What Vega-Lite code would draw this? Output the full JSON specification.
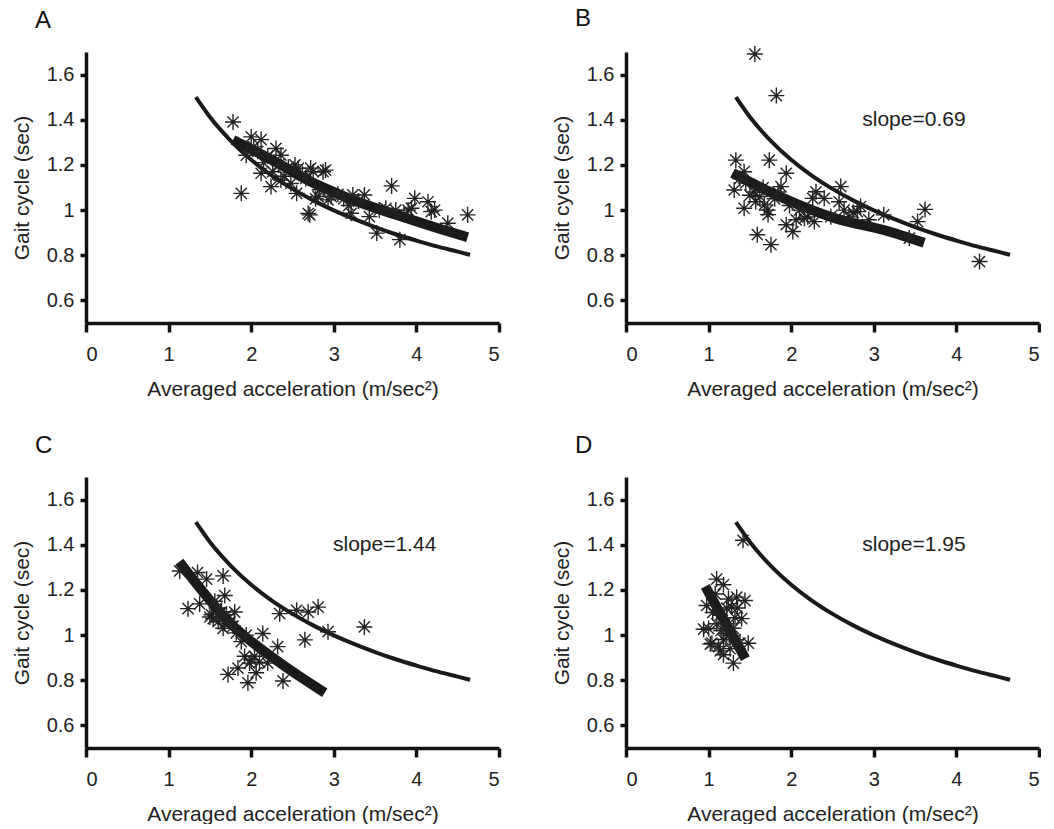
{
  "$schema": "https://vega.github.io/schema/vega-lite/v6.json",
  "padding": {"left": 11, "top": 7, "right": 0, "bottom": 0},
  "background": "white",
  "datasets": {
    "ref": [
      {"acc": 1.33, "gait": 1.5}, {"acc": 1.5, "gait": 1.412}, {"acc": 1.75, "gait": 1.308}, {"acc": 2.0, "gait": 1.223},
      {"acc": 2.25, "gait": 1.153}, {"acc": 2.5, "gait": 1.094}, {"acc": 2.75, "gait": 1.043}, {"acc": 3.0, "gait": 0.999},
      {"acc": 3.25, "gait": 0.96}, {"acc": 3.5, "gait": 0.925}, {"acc": 3.75, "gait": 0.893}, {"acc": 4.0, "gait": 0.865},
      {"acc": 4.25, "gait": 0.839}, {"acc": 4.5, "gait": 0.816}, {"acc": 4.65, "gait": 0.802}
    ],
    "fit": [
      {"panel": "A", "acc": 1.78, "gait": 1.31}, {"panel": "A", "acc": 2.32, "gait": 1.208}, {"panel": "A", "acc": 2.7, "gait": 1.13},
      {"panel": "A", "acc": 3.13, "gait": 1.06}, {"panel": "A", "acc": 3.94, "gait": 0.957}, {"panel": "A", "acc": 4.3, "gait": 0.915}, {"panel": "A", "acc": 4.62, "gait": 0.88},
      {"panel": "B", "acc": 1.29, "gait": 1.164}, {"panel": "B", "acc": 1.86, "gait": 1.06}, {"panel": "B", "acc": 2.54, "gait": 0.963},
      {"panel": "B", "acc": 3.12, "gait": 0.912}, {"panel": "B", "acc": 3.61, "gait": 0.855},
      {"panel": "C", "acc": 1.13, "gait": 1.325}, {"panel": "C", "acc": 1.76, "gait": 1.048}, {"panel": "C", "acc": 2.36, "gait": 0.874}, {"panel": "C", "acc": 2.89, "gait": 0.745},
      {"panel": "D", "acc": 0.96, "gait": 1.216}, {"panel": "D", "acc": 1.445, "gait": 0.896}
    ],
    "ann": [
      {"panel": "B", "acc": 2.86, "gait": 1.4, "label": "slope=0.69"},
      {"panel": "C", "acc": 2.99, "gait": 1.4, "label": "slope=1.44"},
      {"panel": "D", "acc": 2.86, "gait": 1.4, "label": "slope=1.95"}
    ],
    "pts": [
      {"panel": "A", "acc": 1.78, "gait": 1.39}, {"panel": "A", "acc": 1.88, "gait": 1.074}, {"panel": "A", "acc": 2.0, "gait": 1.324},
      {"panel": "A", "acc": 2.12, "gait": 1.312}, {"panel": "A", "acc": 1.94, "gait": 1.243}, {"panel": "A", "acc": 2.03, "gait": 1.28},
      {"panel": "A", "acc": 2.08, "gait": 1.26}, {"panel": "A", "acc": 2.12, "gait": 1.163}, {"panel": "A", "acc": 2.15, "gait": 1.21},
      {"panel": "A", "acc": 2.2, "gait": 1.24}, {"panel": "A", "acc": 2.24, "gait": 1.104}, {"panel": "A", "acc": 2.26, "gait": 1.17},
      {"panel": "A", "acc": 2.3, "gait": 1.273}, {"panel": "A", "acc": 2.36, "gait": 1.243}, {"panel": "A", "acc": 2.33, "gait": 1.2},
      {"panel": "A", "acc": 2.36, "gait": 1.133}, {"panel": "A", "acc": 2.4, "gait": 1.15}, {"panel": "A", "acc": 2.45, "gait": 1.19},
      {"panel": "A", "acc": 2.48, "gait": 1.118}, {"panel": "A", "acc": 2.55, "gait": 1.074}, {"panel": "A", "acc": 2.57, "gait": 1.185},
      {"panel": "A", "acc": 2.53, "gait": 1.2}, {"panel": "A", "acc": 2.62, "gait": 1.16}, {"panel": "A", "acc": 2.66, "gait": 1.14},
      {"panel": "A", "acc": 2.71, "gait": 0.979}, {"panel": "A", "acc": 2.69, "gait": 0.985}, {"panel": "A", "acc": 2.75, "gait": 1.17},
      {"panel": "A", "acc": 2.72, "gait": 1.186}, {"panel": "A", "acc": 2.87, "gait": 1.17}, {"panel": "A", "acc": 2.9, "gait": 1.177},
      {"panel": "A", "acc": 2.81, "gait": 1.06}, {"panel": "A", "acc": 2.78, "gait": 1.05}, {"panel": "A", "acc": 2.83, "gait": 1.09},
      {"panel": "A", "acc": 2.93, "gait": 1.045}, {"panel": "A", "acc": 2.97, "gait": 1.06}, {"panel": "A", "acc": 3.05, "gait": 1.07},
      {"panel": "A", "acc": 3.12, "gait": 1.05}, {"panel": "A", "acc": 3.21, "gait": 0.986}, {"panel": "A", "acc": 3.23, "gait": 1.067},
      {"panel": "A", "acc": 3.18, "gait": 1.02}, {"panel": "A", "acc": 3.3, "gait": 1.04}, {"panel": "A", "acc": 3.37, "gait": 1.067},
      {"panel": "A", "acc": 3.43, "gait": 0.971}, {"panel": "A", "acc": 3.52, "gait": 0.898}, {"panel": "A", "acc": 3.55, "gait": 1.0},
      {"panel": "A", "acc": 3.63, "gait": 1.008}, {"panel": "A", "acc": 3.7, "gait": 1.107}, {"panel": "A", "acc": 3.75, "gait": 1.0},
      {"panel": "A", "acc": 3.8, "gait": 0.869}, {"panel": "A", "acc": 3.85, "gait": 0.98}, {"panel": "A", "acc": 3.9, "gait": 1.0},
      {"panel": "A", "acc": 3.94, "gait": 1.008}, {"panel": "A", "acc": 3.98, "gait": 1.052}, {"panel": "A", "acc": 4.14, "gait": 1.037},
      {"panel": "A", "acc": 4.18, "gait": 0.993}, {"panel": "A", "acc": 4.22, "gait": 1.0}, {"panel": "A", "acc": 4.38, "gait": 0.942},
      {"panel": "A", "acc": 4.62, "gait": 0.979},
      {"panel": "B", "acc": 1.56, "gait": 1.691}, {"panel": "B", "acc": 1.82, "gait": 1.507}, {"panel": "B", "acc": 1.33, "gait": 1.221},
      {"panel": "B", "acc": 1.735, "gait": 1.221}, {"panel": "B", "acc": 1.43, "gait": 1.17}, {"panel": "B", "acc": 1.94, "gait": 1.163},
      {"panel": "B", "acc": 1.31, "gait": 1.089}, {"panel": "B", "acc": 1.43, "gait": 1.008}, {"panel": "B", "acc": 1.59, "gait": 0.891},
      {"panel": "B", "acc": 1.755, "gait": 0.847}, {"panel": "B", "acc": 1.57, "gait": 1.037}, {"panel": "B", "acc": 1.715, "gait": 1.0},
      {"panel": "B", "acc": 1.675, "gait": 1.023}, {"panel": "B", "acc": 1.876, "gait": 1.104}, {"panel": "B", "acc": 1.84, "gait": 1.08},
      {"panel": "B", "acc": 1.94, "gait": 0.935}, {"panel": "B", "acc": 2.02, "gait": 0.905}, {"panel": "B", "acc": 2.06, "gait": 0.957},
      {"panel": "B", "acc": 2.16, "gait": 0.964}, {"panel": "B", "acc": 2.28, "gait": 0.949}, {"panel": "B", "acc": 2.3, "gait": 1.081},
      {"panel": "B", "acc": 2.4, "gait": 1.052}, {"panel": "B", "acc": 2.26, "gait": 1.052}, {"panel": "B", "acc": 2.48, "gait": 0.971},
      {"panel": "B", "acc": 2.6, "gait": 1.104}, {"panel": "B", "acc": 2.58, "gait": 1.037}, {"panel": "B", "acc": 2.64, "gait": 1.0},
      {"panel": "B", "acc": 2.84, "gait": 1.016}, {"panel": "B", "acc": 2.8, "gait": 0.993}, {"panel": "B", "acc": 2.94, "gait": 0.957},
      {"panel": "B", "acc": 3.12, "gait": 0.979}, {"panel": "B", "acc": 3.43, "gait": 0.876}, {"panel": "B", "acc": 3.53, "gait": 0.949},
      {"panel": "B", "acc": 3.62, "gait": 1.003}, {"panel": "B", "acc": 4.28, "gait": 0.772}, {"panel": "B", "acc": 1.45, "gait": 1.12},
      {"panel": "B", "acc": 1.5, "gait": 1.066}, {"panel": "B", "acc": 1.55, "gait": 1.08}, {"panel": "B", "acc": 1.62, "gait": 1.06},
      {"panel": "B", "acc": 1.66, "gait": 1.1}, {"panel": "B", "acc": 1.8, "gait": 1.05}, {"panel": "B", "acc": 1.72, "gait": 0.98},
      {"panel": "B", "acc": 1.98, "gait": 1.02}, {"panel": "B", "acc": 2.1, "gait": 1.0}, {"panel": "B", "acc": 2.2, "gait": 0.97},
      {"panel": "B", "acc": 2.7, "gait": 0.97}, {"panel": "B", "acc": 2.75, "gait": 0.99}, {"panel": "B", "acc": 1.38, "gait": 1.14},
      {"panel": "C", "acc": 1.134, "gait": 1.284}, {"panel": "C", "acc": 1.35, "gait": 1.277}, {"panel": "C", "acc": 1.46, "gait": 1.248},
      {"panel": "C", "acc": 1.66, "gait": 1.262}, {"panel": "C", "acc": 1.235, "gait": 1.117}, {"panel": "C", "acc": 1.376, "gait": 1.138},
      {"panel": "C", "acc": 1.68, "gait": 1.175}, {"panel": "C", "acc": 1.54, "gait": 1.073}, {"panel": "C", "acc": 1.68, "gait": 1.051},
      {"panel": "C", "acc": 1.8, "gait": 1.102}, {"panel": "C", "acc": 1.64, "gait": 1.102}, {"panel": "C", "acc": 1.88, "gait": 0.971},
      {"panel": "C", "acc": 2.14, "gait": 1.007}, {"panel": "C", "acc": 2.345, "gait": 1.095}, {"panel": "C", "acc": 2.55, "gait": 1.11},
      {"panel": "C", "acc": 2.69, "gait": 1.102}, {"panel": "C", "acc": 2.81, "gait": 1.124}, {"panel": "C", "acc": 2.65, "gait": 0.979},
      {"panel": "C", "acc": 2.93, "gait": 1.015}, {"panel": "C", "acc": 3.37, "gait": 1.036}, {"panel": "C", "acc": 2.32, "gait": 0.949},
      {"panel": "C", "acc": 1.92, "gait": 0.906}, {"panel": "C", "acc": 2.04, "gait": 0.906}, {"panel": "C", "acc": 1.98, "gait": 0.876},
      {"panel": "C", "acc": 1.84, "gait": 0.854}, {"panel": "C", "acc": 1.72, "gait": 0.826}, {"panel": "C", "acc": 1.96, "gait": 0.789},
      {"panel": "C", "acc": 2.06, "gait": 0.833}, {"panel": "C", "acc": 2.2, "gait": 0.876}, {"panel": "C", "acc": 2.385, "gait": 0.797},
      {"panel": "C", "acc": 1.5, "gait": 1.08}, {"panel": "C", "acc": 1.58, "gait": 1.12}, {"panel": "C", "acc": 1.62, "gait": 1.1},
      {"panel": "C", "acc": 1.7, "gait": 1.09}, {"panel": "C", "acc": 1.74, "gait": 1.06}, {"panel": "C", "acc": 1.66, "gait": 1.03},
      {"panel": "C", "acc": 1.6, "gait": 1.06}, {"panel": "C", "acc": 1.78, "gait": 1.04}, {"panel": "C", "acc": 1.56, "gait": 1.15},
      {"panel": "C", "acc": 1.52, "gait": 1.09}, {"panel": "C", "acc": 1.82, "gait": 1.01}, {"panel": "C", "acc": 1.94, "gait": 1.0},
      {"panel": "C", "acc": 2.0, "gait": 0.89}, {"panel": "C", "acc": 2.1, "gait": 0.88},
      {"panel": "D", "acc": 1.417, "gait": 1.42}, {"panel": "D", "acc": 1.097, "gait": 1.248}, {"panel": "D", "acc": 1.18, "gait": 1.223},
      {"panel": "D", "acc": 0.976, "gait": 1.131}, {"panel": "D", "acc": 0.94, "gait": 1.026}, {"panel": "D", "acc": 1.0, "gait": 1.029},
      {"panel": "D", "acc": 1.04, "gait": 0.964}, {"panel": "D", "acc": 1.3, "gait": 0.876}, {"panel": "D", "acc": 1.48, "gait": 0.964},
      {"panel": "D", "acc": 1.44, "gait": 1.153}, {"panel": "D", "acc": 1.34, "gait": 1.168}, {"panel": "D", "acc": 1.4, "gait": 1.073},
      {"panel": "D", "acc": 1.14, "gait": 1.088}, {"panel": "D", "acc": 1.22, "gait": 1.007}, {"panel": "D", "acc": 1.12, "gait": 0.949},
      {"panel": "D", "acc": 1.18, "gait": 0.913}, {"panel": "D", "acc": 1.28, "gait": 1.124}, {"panel": "D", "acc": 1.08, "gait": 1.182},
      {"panel": "D", "acc": 1.38, "gait": 0.964}, {"panel": "D", "acc": 1.05, "gait": 1.1}, {"panel": "D", "acc": 1.2, "gait": 1.05},
      {"panel": "D", "acc": 1.25, "gait": 1.0}, {"panel": "D", "acc": 1.15, "gait": 1.02}, {"panel": "D", "acc": 1.1, "gait": 1.05},
      {"panel": "D", "acc": 1.3, "gait": 1.03}, {"panel": "D", "acc": 1.22, "gait": 1.12}, {"panel": "D", "acc": 1.32, "gait": 0.98},
      {"panel": "D", "acc": 1.18, "gait": 0.98}, {"panel": "D", "acc": 1.26, "gait": 0.94}, {"panel": "D", "acc": 1.02, "gait": 0.96},
      {"panel": "D", "acc": 1.14, "gait": 0.93}, {"panel": "D", "acc": 1.32, "gait": 1.077}, {"panel": "D", "acc": 1.24, "gait": 1.16},
      {"panel": "D", "acc": 1.35, "gait": 1.12}
    ]
  },
  "vconcat": [
    {
      "hconcat": [
        {
          "width": 413, "height": 271,
          "title": {"text": "A"},
          "encoding": {
            "x": {"field": "acc", "type": "quantitative", "scale": {"domain": [0, 5], "nice": false}, "axis": {"values": [0, 1, 2, 3, 4, 5]}, "title": "Averaged acceleration (m/sec²)"},
            "y": {"field": "gait", "type": "quantitative", "scale": {"domain": [0.5, 1.7], "nice": false, "zero": false}, "axis": {"values": [0.6, 0.8, 1, 1.2, 1.4, 1.6], "format": "~g"}, "title": "Gait cycle (sec)"}
          },
          "layer": [
            {"data": {"name": "ref"}, "mark": {"type": "line", "strokeWidth": 4, "color": "#1a1a1a", "interpolate": "monotone"}},
            {"data": {"name": "fit"}, "transform": [{"filter": "datum.panel == 'A'"}], "mark": {"type": "line", "strokeWidth": 10, "color": "#1a1a1a", "interpolate": "monotone"}},
            {"data": {"name": "pts"}, "transform": [{"filter": "datum.panel == 'A'"}], "mark": {"type": "point", "shape": "M-1,0L1,0M0,-1L0,1M-0.7,-0.7L0.7,0.7M-0.7,0.7L0.7,-0.7", "size": 256, "strokeWidth": 1.4, "color": "#222", "filled": false, "opacity": 1}}
          ]
        },
        {
          "width": 413, "height": 271,
          "title": {"text": "B", "offset": 12},
          "encoding": {
            "x": {"field": "acc", "type": "quantitative", "scale": {"domain": [0, 5], "nice": false}, "axis": {"values": [0, 1, 2, 3, 4, 5]}, "title": "Averaged acceleration (m/sec²)"},
            "y": {"field": "gait", "type": "quantitative", "scale": {"domain": [0.5, 1.7], "nice": false, "zero": false}, "axis": {"values": [0.6, 0.8, 1, 1.2, 1.4, 1.6], "format": "~g"}, "title": "Gait cycle (sec)"}
          },
          "layer": [
            {"data": {"name": "ref"}, "mark": {"type": "line", "strokeWidth": 4, "color": "#1a1a1a", "interpolate": "monotone"}},
            {"data": {"name": "fit"}, "transform": [{"filter": "datum.panel == 'B'"}], "mark": {"type": "line", "strokeWidth": 10, "color": "#1a1a1a", "interpolate": "monotone"}},
            {"data": {"name": "pts"}, "transform": [{"filter": "datum.panel == 'B'"}], "mark": {"type": "point", "shape": "M-1,0L1,0M0,-1L0,1M-0.7,-0.7L0.7,0.7M-0.7,0.7L0.7,-0.7", "size": 256, "strokeWidth": 1.4, "color": "#222", "filled": false, "opacity": 1}},
            {"data": {"name": "ann"}, "transform": [{"filter": "datum.panel == 'B'"}], "mark": {"type": "text", "align": "left", "baseline": "middle", "fontSize": 21, "color": "#222"}, "encoding": {"text": {"field": "label"}}}
          ]
        }
      ]
    },
    {
      "hconcat": [
        {
          "width": 413, "height": 271,
          "title": {"text": "C"},
          "encoding": {
            "x": {"field": "acc", "type": "quantitative", "scale": {"domain": [0, 5], "nice": false}, "axis": {"values": [0, 1, 2, 3, 4, 5]}, "title": "Averaged acceleration (m/sec²)"},
            "y": {"field": "gait", "type": "quantitative", "scale": {"domain": [0.5, 1.7], "nice": false, "zero": false}, "axis": {"values": [0.6, 0.8, 1, 1.2, 1.4, 1.6], "format": "~g"}, "title": "Gait cycle (sec)"}
          },
          "layer": [
            {"data": {"name": "ref"}, "mark": {"type": "line", "strokeWidth": 4, "color": "#1a1a1a", "interpolate": "monotone"}},
            {"data": {"name": "fit"}, "transform": [{"filter": "datum.panel == 'C'"}], "mark": {"type": "line", "strokeWidth": 10, "color": "#1a1a1a", "interpolate": "monotone"}},
            {"data": {"name": "pts"}, "transform": [{"filter": "datum.panel == 'C'"}], "mark": {"type": "point", "shape": "M-1,0L1,0M0,-1L0,1M-0.7,-0.7L0.7,0.7M-0.7,0.7L0.7,-0.7", "size": 256, "strokeWidth": 1.4, "color": "#222", "filled": false, "opacity": 1}},
            {"data": {"name": "ann"}, "transform": [{"filter": "datum.panel == 'C'"}], "mark": {"type": "text", "align": "left", "baseline": "middle", "fontSize": 21, "color": "#222"}, "encoding": {"text": {"field": "label"}}}
          ]
        },
        {
          "width": 413, "height": 271,
          "title": {"text": "D"},
          "encoding": {
            "x": {"field": "acc", "type": "quantitative", "scale": {"domain": [0, 5], "nice": false}, "axis": {"values": [0, 1, 2, 3, 4, 5]}, "title": "Averaged acceleration (m/sec²)"},
            "y": {"field": "gait", "type": "quantitative", "scale": {"domain": [0.5, 1.7], "nice": false, "zero": false}, "axis": {"values": [0.6, 0.8, 1, 1.2, 1.4, 1.6], "format": "~g"}, "title": "Gait cycle (sec)"}
          },
          "layer": [
            {"data": {"name": "ref"}, "mark": {"type": "line", "strokeWidth": 4, "color": "#1a1a1a", "interpolate": "monotone"}},
            {"data": {"name": "fit"}, "transform": [{"filter": "datum.panel == 'D'"}], "mark": {"type": "line", "strokeWidth": 10, "color": "#1a1a1a", "interpolate": "monotone"}},
            {"data": {"name": "pts"}, "transform": [{"filter": "datum.panel == 'D'"}], "mark": {"type": "point", "shape": "M-1,0L1,0M0,-1L0,1M-0.7,-0.7L0.7,0.7M-0.7,0.7L0.7,-0.7", "size": 256, "strokeWidth": 1.4, "color": "#222", "filled": false, "opacity": 1}},
            {"data": {"name": "ann"}, "transform": [{"filter": "datum.panel == 'D'"}], "mark": {"type": "text", "align": "left", "baseline": "middle", "fontSize": 21, "color": "#222"}, "encoding": {"text": {"field": "label"}}}
          ]
        }
      ]
    }
  ],
  "spacing": 35,
  "config": {
    "font": "Liberation Sans",
    "view": {"stroke": null},
    "concat": {"spacing": 50},
    "axis": {"grid": false, "domainColor": "#111", "domainWidth": 3.5, "tickColor": "#111", "tickWidth": 3.5, "labelFontSize": 20, "labelColor": "#222", "titleFontSize": 21, "titleFontWeight": "normal", "titleColor": "#222", "labelFont": "Liberation Sans", "titleFont": "Liberation Sans"},
    "axisX": {"tickSize": 9, "labelPadding": 12, "titlePadding": 14},
    "axisY": {"tickSize": 6, "labelPadding": 6, "titlePadding": 14},
    "title": {"anchor": "start", "frame": "group", "dx": -51, "fontSize": 24, "fontWeight": "normal", "offset": 19, "color": "#111", "font": "Liberation Sans"}
  }
}
